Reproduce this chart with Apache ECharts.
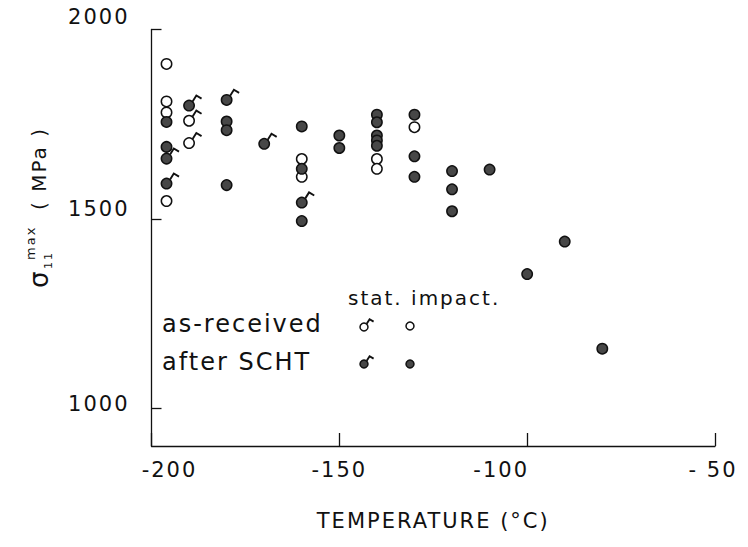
<!DOCTYPE html>
<html>
<head>
<meta charset="utf-8">
<script src="https://cdn.jsdelivr.net/npm/echarts@6/dist/echarts.min.js"></script>
<style>
  html, body { margin: 0; padding: 0; background: #fff; }
  #chart { width: 748px; height: 547px; }
  /* technical lettering: widely tracked characters */
  #chart svg text { letter-spacing: 2px; }
</style>
</head>
<body>
<div id="chart"></div>
<script>
// Maximum stress sigma_11 (MPa) versus test temperature (°C)
// [temperature, stress]
const impactAsReceived = [
  [-196, 1909], [-196, 1810], [-196, 1781], [-196, 1547],
  [-160, 1658], [-160, 1611],
  [-140, 1658], [-140, 1632],
  [-130, 1742]
];
const impactAfterSCHT = [
  [-196, 1756], [-196, 1690],
  [-180, 1757], [-180, 1734], [-180, 1589],
  [-160, 1744], [-160, 1632], [-160, 1494],
  [-150, 1720], [-150, 1687],
  [-140, 1775], [-140, 1755], [-140, 1720], [-140, 1707], [-140, 1693],
  [-130, 1775], [-130, 1665], [-130, 1611],
  [-120, 1626], [-120, 1578], [-120, 1520],
  [-110, 1630],
  [-100, 1354],
  [-90, 1440],
  [-80, 1157]
];
const staticAsReceived = [
  [-190, 1759], [-190, 1700]
];
const staticAfterSCHT = [
  [-196, 1659], [-196, 1593],
  [-190, 1799],
  [-180, 1814],
  [-170, 1698],
  [-160, 1543]
];

const xTicks = [-200, -150, -100, -50];
const xTickLabels = ['-200', '-150', '-100', '- 50'];
const yTicks = [1000, 1500, 2000];
const yTickLabels = ['1000', '1500', '2000'];

const FONT = '"DejaVu Sans", sans-serif';
const INK = '#111';

// One marker: open or dark circle, optionally with the little flag
// that marks a static test.
function marker(cx, cy, r, filled, flagged) {
  const children = [{
    type: 'circle',
    shape: { cx: cx, cy: cy, r: r },
    style: { fill: filled ? '#474747' : '#fff', stroke: INK, lineWidth: 1.5 }
  }];
  if (flagged) {
    children.push({
      type: 'polyline',
      shape: { points: [
        [cx + r * 0.68, cy - r * 0.8],
        [cx + r * 1.4, cy - r * 1.95],
        [cx + r * 2.4, cy - r * 1.35]
      ] },
      style: { stroke: INK, fill: null, lineWidth: 1.9 }
    });
  }
  return { type: 'group', children: children };
}

function markerSeries(name, data, filled, flagged) {
  return {
    type: 'custom',
    name: name,
    data: data,
    encode: { x: 0, y: 1 },
    renderItem: function (params, api) {
      const p = api.coord([api.value(0), api.value(1)]);
      return marker(p[0], p[1], 5.2, filled, flagged);
    }
  };
}

// x tick labels sit a little off their ticks, as lettered on the drawing
const xLabelRich = {
  l: { padding: [0, 0, 0, 36] },
  c: { padding: [0, 0, 0, 0] },
  r: { padding: [0, 52, 0, 0] },
  e: { padding: [0, 4, 0, 0] }
};
const xLabelStyle = ['l', 'c', 'r', 'e'];

// y tick labels sit above their ticks
const yLabelRich = {
  a: { padding: [0, 0, 8, 0] },
  b: { padding: [0, 0, 20, 0] },
  c: { padding: [0, 0, 26, 0] }
};
const yLabelStyle = ['a', 'b', 'c'];

const chart = echarts.init(document.getElementById('chart'), null, { renderer: 'svg' });

const axisFont = { color: INK, fontFamily: FONT, fontSize: 21 };

chart.setOption({
  animation: false,
  backgroundColor: '#fff',
  grid: { left: 151.5, right: 33, top: 29.5, bottom: 101 },
  xAxis: {
    type: 'value',
    min: -200,
    max: -50,
    interval: 50,
    axisLine: { lineStyle: { color: INK, width: 1.3 } },
    axisTick: { inside: true, length: 13, lineStyle: { color: INK, width: 1.3 }, customValues: xTicks },
    axisLabel: {
      customValues: xTicks,
      margin: 13,
      color: INK,
      fontFamily: FONT,
      fontSize: 21,
      rich: Object.fromEntries(Object.entries(xLabelRich).map(([k, v]) => [k, Object.assign({}, axisFont, v)])),
      formatter: function (v) {
        const i = xTicks.indexOf(v);
        return '{' + xLabelStyle[i] + '|' + xTickLabels[i] + '}';
      }
    },
    splitLine: { show: false },
    name: 'TEMPERATURE (°C)',
    nameLocation: 'middle',
    nameGap: 64,
    nameTextStyle: { color: INK, fontFamily: FONT, fontSize: 21 }
  },
  yAxis: {
    type: 'value',
    min: 900,
    max: 2000,
    axisLine: { show: true, lineStyle: { color: INK, width: 1.3 } },
    axisTick: { show: true, inside: true, length: 10, lineStyle: { color: INK, width: 1.3 }, customValues: yTicks },
    axisLabel: {
      customValues: yTicks,
      margin: 22,
      color: INK,
      fontFamily: FONT,
      fontSize: 21,
      rich: Object.fromEntries(Object.entries(yLabelRich).map(([k, v]) => [k, Object.assign({}, axisFont, v)])),
      formatter: function (v) {
        const i = yTicks.indexOf(v);
        return '{' + yLabelStyle[i] + '|' + yTickLabels[i] + '}';
      }
    },
    splitLine: { show: false }
  },
  graphic: [
    // rotated axis title: sigma_11^max (MPa)
    {
      type: 'group',
      x: 39,
      y: 288,
      rotation: Math.PI / 2,
      children: [
        { type: 'text', x: 0, y: 0, style: { text: 'σ', font: '26px ' + FONT, fill: INK, textVerticalAlign: 'middle' } },
        { type: 'text', x: 19, y: 9, style: { text: '11', font: '11px ' + FONT, fill: INK, textVerticalAlign: 'middle' } },
        { type: 'text', x: 28, y: -9, style: { text: 'max', font: '13px ' + FONT, fill: INK, textVerticalAlign: 'middle' } },
        { type: 'text', x: 78, y: 0, style: { text: '( MPa )', font: '20px ' + FONT, fill: INK, textVerticalAlign: 'middle' } }
      ]
    },
    // symbol key
    { type: 'text', x: 348, y: 298, style: { text: 'stat. impact.', font: '20px ' + FONT, fill: INK, textVerticalAlign: 'middle' } },
    { type: 'text', x: 162, y: 324, style: { text: 'as-received', font: '24px ' + FONT, fill: INK, textVerticalAlign: 'middle' } },
    { type: 'text', x: 162, y: 362, style: { text: 'after SCHT', font: '24px ' + FONT, fill: INK, textVerticalAlign: 'middle' } },
    marker(364, 327, 4, false, true),
    marker(410, 326, 4, false, false),
    marker(364, 364, 4, true, true),
    marker(410, 364, 4, true, false)
  ],
  series: [
    markerSeries('impact, as-received', impactAsReceived, false, false),
    markerSeries('impact, after SCHT', impactAfterSCHT, true, false),
    markerSeries('static, as-received', staticAsReceived, false, true),
    markerSeries('static, after SCHT', staticAfterSCHT, true, true)
  ]
});
</script>
</body>
</html>
